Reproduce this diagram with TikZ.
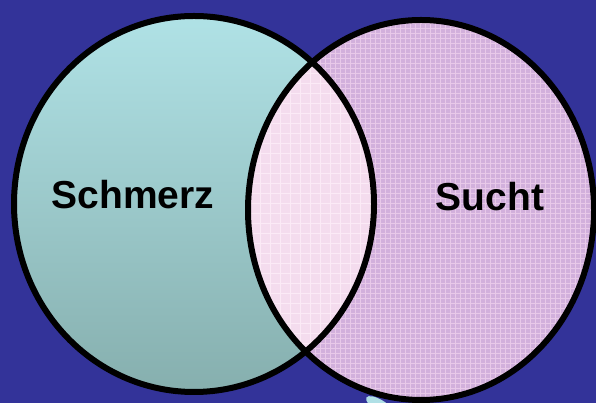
\documentclass[tikz,border=0pt]{standalone}
\usepackage{fontspec}
\setmainfont{Liberation Sans}
\definecolor{bgblue}{HTML}{333399}
\definecolor{tealtop}{HTML}{B0E2E6}
\definecolor{tealbot}{HTML}{86AFAE}
\definecolor{lav}{HTML}{D2B0DC}
\definecolor{lavline}{HTML}{F2D4EE}
\definecolor{inter}{HTML}{F4DCEE}
\definecolor{interline}{HTML}{FBEAF6}
\definecolor{blob}{HTML}{B0E0E6}
\tikzset{
  outline/.style={draw=black, line width=6pt},
  label/.style={font=\bfseries\fontsize{39}{40}\selectfont, text=black, inner sep=0pt}
}
\begin{document}
\begin{tikzpicture}[x=1pt,y=1pt]
\useasboundingbox (0,0) rectangle (596,403);
\clip (0,0) rectangle (596,403);
\fill[bgblue] (0,0) rectangle (596,403);
% small light-blue shape at bottom
\fill[blob, rotate around={-32:(380,-3)}] (380,-3) ellipse [x radius=16, y radius=6];
% left ellipse (gradient)
\shade[top color=tealtop, bottom color=tealbot] (194,199) ellipse [x radius=180, y radius=188];
% right ellipse (patterned lavender)
\fill[lav] (421,193) ellipse [x radius=173, y radius=190];
\begin{scope}
  \clip (421,193) ellipse [x radius=173, y radius=190];
  \draw[lavline, line width=0.9pt, step=10] (240,0) grid (600,403);
  \draw[lavline!70!lav, line width=0.5pt, step=5] (240,0) grid (600,403);
\end{scope}
% intersection
\begin{scope}
  \clip (194,199) ellipse [x radius=180, y radius=188];
  \fill[inter] (421,193) ellipse [x radius=173, y radius=190];
  \clip (421,193) ellipse [x radius=173, y radius=190];
  \draw[interline, line width=0.8pt, step=10] (240,0) grid (600,403);
\end{scope}
% outlines
\draw[outline] (194,199) ellipse [x radius=180, y radius=188];
\draw[outline] (421,193) ellipse [x radius=173, y radius=190];
% labels
\node[label] (schmerz) at (133,208) {Schmerz};
\node[label] (sucht) at (490,206) {Sucht};
\end{tikzpicture}
\end{document}
